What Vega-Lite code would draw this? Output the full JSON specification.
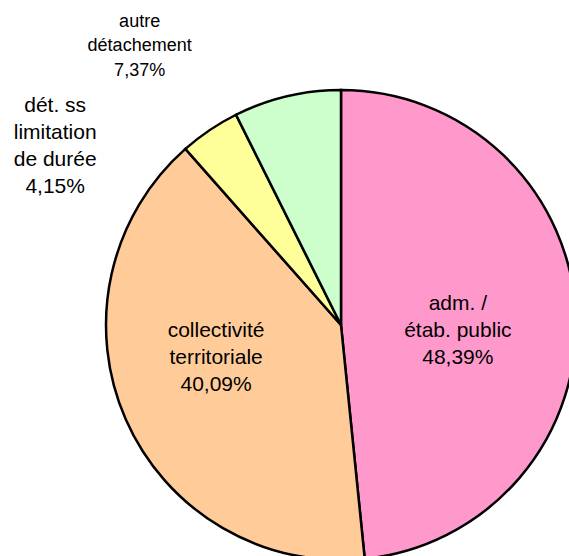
{
  "$schema": "https://vega.github.io/schema/vega-lite/v6.json",
  "width": 682,
  "height": 650,
  "padding": 0,
  "autosize": {"type": "none"},
  "background": "white",
  "view": {"stroke": null},
  "data": {
    "values": [
      {"idx": 1, "cat": "adm. / étab. public", "label": "adm. /\nétab. public\n48,39%", "pct": 48.39},
      {"idx": 2, "cat": "collectivité territoriale", "label": "collectivité\nterritoriale\n40,09%", "pct": 40.09},
      {"idx": 3, "cat": "dét. ss limitation de durée", "label": "dét. ss\nlimitation\nde durée\n4,15%", "pct": 4.15},
      {"idx": 4, "cat": "autre détachement", "label": "autre\ndétachement\n7,37%", "pct": 7.37}
    ]
  },
  "encoding": {
    "theta": {"field": "pct", "type": "quantitative", "stack": true},
    "order": {"field": "idx", "type": "ordinal"}
  },
  "layer": [
    {
      "mark": {"type": "arc", "radius": 235, "stroke": "black", "strokeWidth": 2.5},
      "encoding": {
        "color": {
          "field": "cat",
          "type": "nominal",
          "scale": {
            "domain": ["adm. / étab. public", "collectivité territoriale", "dét. ss limitation de durée", "autre détachement"],
            "range": ["#FF99CC", "#FFCC99", "#FFFF99", "#CCFFCC"]
          },
          "legend": null
        }
      }
    },
    {
      "mark": {"type": "text", "radius": 120, "dx": -3, "dy": -15, "font": "Liberation Sans", "fontSize": 21, "lineHeight": 27, "lineBreak": "\n", "align": "center", "baseline": "middle", "color": "black"},
      "encoding": {"text": {"condition": {"test": "datum.idx == 1", "field": "label"}, "value": ""}}
    },
    {
      "mark": {"type": "text", "radius": 120, "dx": -15, "dy": -42, "font": "Liberation Sans", "fontSize": 21, "lineHeight": 27, "lineBreak": "\n", "align": "center", "baseline": "middle", "color": "black"},
      "encoding": {"text": {"condition": {"test": "datum.idx == 2", "field": "label"}, "value": ""}}
    },
    {
      "mark": {"type": "text", "radius": 250, "dx": -146, "dy": -12, "font": "Liberation Sans", "fontSize": 21, "lineHeight": 27, "lineBreak": "\n", "align": "center", "baseline": "middle", "color": "black"},
      "encoding": {"text": {"condition": {"test": "datum.idx == 3", "field": "label"}, "value": ""}}
    },
    {
      "mark": {"type": "text", "radius": 250, "dx": -144, "dy": -60, "font": "Liberation Sans", "fontSize": 18, "lineHeight": 24.5, "lineBreak": "\n", "align": "center", "baseline": "middle", "color": "black"},
      "encoding": {"text": {"condition": {"test": "datum.idx == 4", "field": "label"}, "value": ""}}
    }
  ]
}
